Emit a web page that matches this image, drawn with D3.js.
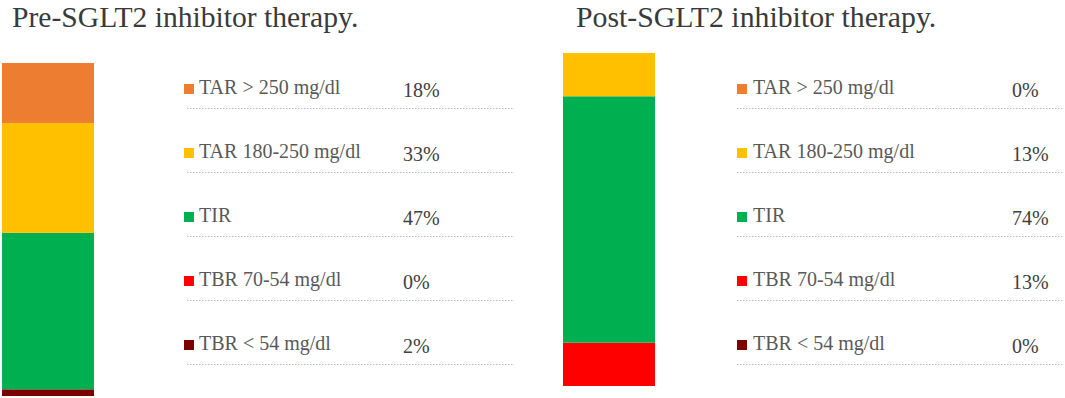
<!DOCTYPE html>
<html>
<head>
<meta charset="utf-8">
<script src="https://cdn.jsdelivr.net/npm/d3@7"></script>
<style>
  html, body { margin: 0; padding: 0; background: #fff; }
  svg { display: block; }
  text { font-family: "Liberation Serif", "Times New Roman", serif; }
</style>
</head>
<body>
<script>
// ---- data ----
const categories = ["TAR > 250 mg/dl", "TAR 180-250 mg/dl", "TIR", "TBR 70-54 mg/dl", "TBR < 54 mg/dl"];
const colors = ["#ED7D31", "#FFC000", "#00B050", "#FF0000", "#7A0000"];
const preValues = [18, 33, 47, 0, 2];
const postValues = [0, 13, 74, 13, 0];
const panelTitles = ["Pre-SGLT2 inhibitor therapy.", "Post-SGLT2 inhibitor therapy."];

// ---- layout ----
const W = 1065, H = 398;
const svg = d3.select("body").append("svg").attr("width", W).attr("height", H);

const panels = [
  { title: panelTitles[0], values: preValues, titleX: 12, titleY: 26.5, titleSize: 29.6,
    barX: 2, barW: 92, barBottom: 396,
    sqX: 184, textX: 199, pctX: 403, lineX0: 187, lineX1: 513 },
  { title: panelTitles[1], values: postValues, titleX: 576, titleY: 26.5, titleSize: 29.8,
    barX: 563, barW: 92, barBottom: 386,
    sqX: 737, textX: 753, pctX: 1012, lineX0: 737, lineX1: 1063 }
];

const barH = 333;
const rowY0 = 108, rowStep = 64;

panels.forEach(p => {
  const g = svg.append("g");

  g.append("text")
    .attr("x", p.titleX).attr("y", p.titleY)
    .attr("font-size", p.titleSize).attr("fill", "#3a3a3a")
    .text(p.title);

  // stacked bar: bottom is last category
  const y = d3.scaleLinear().domain([0, 100]).range([p.barBottom, p.barBottom - barH]);
  const row = {};
  categories.forEach((c, i) => row[c] = p.values[i]);
  const stack = d3.stack().keys(categories.slice().reverse());
  const series = stack([row]);

  g.selectAll("rect.seg").data(series).enter().append("rect")
    .attr("class", "seg")
    .attr("x", p.barX).attr("width", p.barW)
    .attr("y", d => y(d[0][1]))
    .attr("height", d => y(d[0][0]) - y(d[0][1]))
    .attr("fill", d => colors[categories.indexOf(d.key)]);

  // legend rows
  const ry = d3.scalePoint().domain(categories).range([rowY0, rowY0 + rowStep * 4]);
  const rows = g.selectAll("g.row").data(categories).enter().append("g").attr("class", "row");

  rows.append("rect")
    .attr("x", p.sqX).attr("y", d => ry(d) - 24)
    .attr("width", 10).attr("height", 10)
    .attr("fill", (d, i) => colors[i]);

  rows.append("text")
    .attr("x", p.textX).attr("y", d => ry(d) - 14)
    .attr("font-size", 20).attr("fill", "#595959")
    .text(d => d);

  rows.append("text")
    .attr("x", p.pctX).attr("y", d => ry(d) - 11)
    .attr("font-size", 20).attr("fill", "#404040")
    .text((d, i) => p.values[i] + "%");

  rows.append("line")
    .attr("x1", p.lineX0).attr("x2", p.lineX1)
    .attr("y1", d => ry(d) + 0.5).attr("y2", d => ry(d) + 0.5)
    .attr("stroke", "#b8b8b8").attr("stroke-width", 1)
    .attr("stroke-dasharray", "1.5,1.5");
});
</script>
</body>
</html>
